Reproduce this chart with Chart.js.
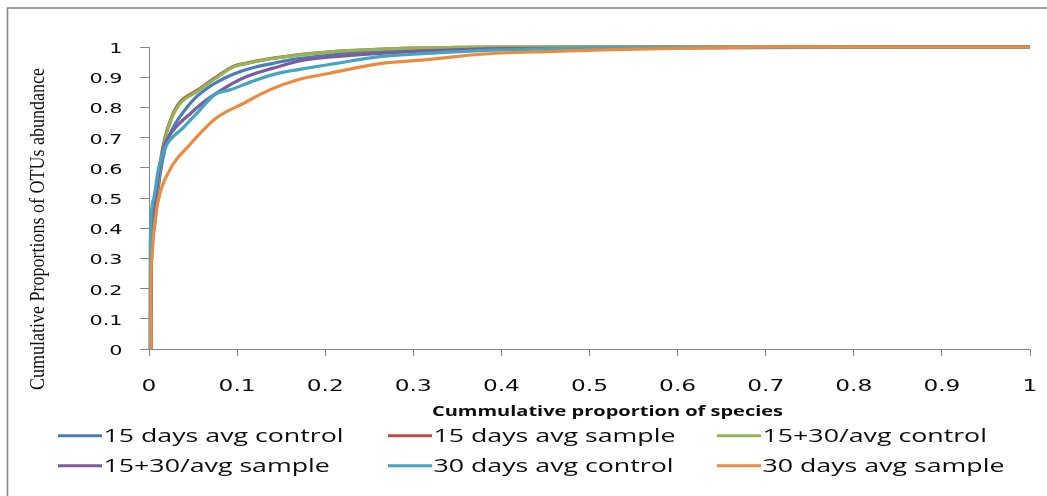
<!DOCTYPE html>
<html>
<head>
<meta charset="utf-8">
<script src="https://cdn.jsdelivr.net/npm/chart.js@4/dist/chart.umd.min.js"></script>
<style>
  html, body { margin: 0; padding: 0; background: #ffffff; }
  #wrap { position: relative; width: 1047px; height: 496px; }
</style>
</head>
<body>
<div id="wrap"><canvas id="c" width="1047" height="496"></canvas></div>
<script>
// ---- data ----
const seriesLabels = ['15 days avg control', '15 days avg sample', '15+30/avg control',
                      '15+30/avg sample', '30 days avg control', '30 days avg sample'];
const seriesColors = ['#4A7EBB', '#BE4B48', '#93B552', '#7A5CA0', '#43A5C2', '#EC8A3E'];

const ctrl15X = [0.002, 0.0025, 0.006, 0.010, 0.015, 0.020, 0.026, 0.034, 0.043, 0.052, 0.063, 0.073, 0.088, 0.103, 0.120, 0.141, 0.165, 0.190, 0.225, 0.262, 0.32, 0.40, 0.50, 1];
const ctrl15Y = [0, 0.25, 0.40, 0.52, 0.62, 0.68, 0.725, 0.765, 0.80, 0.83, 0.857, 0.877, 0.90, 0.918, 0.933, 0.946, 0.96, 0.968, 0.978, 0.985, 0.992, 0.997, 1, 1];

const samp15X = [0.002, 0.0025, 0.006, 0.0125, 0.018, 0.026, 0.035, 0.055, 0.075, 0.095, 0.115, 0.141, 0.171, 0.210, 0.243, 0.300, 0.400, 1];
const samp15Y = [0, 0.31, 0.46, 0.612, 0.698, 0.77, 0.817, 0.857, 0.898, 0.935, 0.949, 0.963, 0.975, 0.985, 0.99, 0.996, 1, 1];

const ctrl1530X = [0.002, 0.0025, 0.006, 0.0125, 0.018, 0.026, 0.035, 0.055, 0.075, 0.095, 0.115, 0.141, 0.171, 0.210, 0.243, 0.300, 0.400, 1];
const ctrl1530Y = [0, 0.30, 0.45, 0.604, 0.692, 0.765, 0.812, 0.853, 0.895, 0.933, 0.948, 0.962, 0.974, 0.985, 0.99, 0.996, 1, 1];

const samp1530X = [0.002, 0.0025, 0.006, 0.010, 0.016, 0.020, 0.031, 0.047, 0.065, 0.088, 0.111, 0.141, 0.175, 0.210, 0.262, 0.320, 0.400, 1];
const samp1530Y = [0, 0.30, 0.45, 0.56, 0.66, 0.692, 0.736, 0.780, 0.824, 0.868, 0.902, 0.93, 0.956, 0.968, 0.979, 0.988, 0.995, 1];

const ctrl30X = [0.001, 0.0015, 0.005, 0.0106, 0.018, 0.039, 0.058, 0.075, 0.092, 0.118, 0.145, 0.171, 0.213, 0.262, 0.300, 0.376, 0.450, 0.550, 1];
const ctrl30Y = [0, 0.36, 0.493, 0.595, 0.665, 0.733, 0.792, 0.843, 0.858, 0.887, 0.912, 0.926, 0.946, 0.968, 0.976, 0.988, 0.994, 0.998, 1];

const samp30X = [0.002, 0.0022, 0.003, 0.0057, 0.0106, 0.024, 0.045, 0.076, 0.107, 0.137, 0.171, 0.205, 0.262, 0.319, 0.376, 0.450, 0.489, 0.565, 0.640, 0.700, 1];
const samp30Y = [0, 0.218, 0.295, 0.394, 0.493, 0.595, 0.672, 0.764, 0.813, 0.858, 0.893, 0.913, 0.945, 0.959, 0.976, 0.985, 0.988, 0.994, 0.997, 1, 1];

const xTickValues = [0, 0.1, 0.2, 0.3, 0.4, 0.5, 0.6, 0.7, 0.8, 0.9, 1];
const xTickLabels = ['0', '0.1', '0.2', '0.3', '0.4', '0.5', '0.6', '0.7', '0.8', '0.9', '1'];
const yTickValues = [0, 0.1, 0.2, 0.3, 0.4, 0.5, 0.6, 0.7, 0.8, 0.9, 1];
const yTickLabels = ['0', '0.1', '0.2', '0.3', '0.4', '0.5', '0.6', '0.7', '0.8', '0.9', '1'];

const xTitle = 'Cummulative proportion of species';
const yTitle = 'Cumulative Proportions of OTUs abundance';

const seriesX = [ctrl15X, samp15X, ctrl1530X, samp1530X, ctrl30X, samp30X];
const seriesY = [ctrl15Y, samp15Y, ctrl1530Y, samp1530Y, ctrl30Y, samp30Y];

// ---- build chart ----
const datasets = seriesLabels.map((lab, i) => ({
  label: lab,
  data: seriesX[i].map((x, k) => ({ x: x, y: seriesY[i][k] })),
  borderColor: seriesColors[i],
  backgroundColor: seriesColors[i],
  borderWidth: 3.2,
  pointRadius: 0,
  showLine: true,
  fill: false,
  cubicInterpolationMode: 'monotone',
  order: seriesLabels.length - i,
  clip: 6
}));

function stretchText(ctx, text, x, y, sx, align) {
  ctx.save();
  ctx.translate(x, y);
  ctx.scale(sx, 1);
  ctx.textAlign = align;
  ctx.textBaseline = 'alphabetic';
  ctx.fillText(text, 0, 0);
  ctx.restore();
}

const decor = {
  id: 'decor',
  beforeDraw(chart) {
    const ctx = chart.ctx;
    ctx.save();
    ctx.fillStyle = '#ffffff';
    ctx.fillRect(0, 0, chart.width, chart.height);
    ctx.strokeStyle = '#8a8a8a';
    ctx.lineWidth = 1.6;
    ctx.strokeRect(7.5, 8, 1200, 700);
    ctx.restore();
  },
  afterDraw(chart) {
    const ctx = chart.ctx;
    const xs = chart.scales.x, ys = chart.scales.y;
    ctx.save();
    ctx.fillStyle = '#0d0d0d';

    // y tick labels
    ctx.font = '14px "DejaVu Sans"';
    let w = ctx.measureText('0.9').width;
    let sx = 33 / w;
    yTickValues.forEach((v, i) => {
      const py = ys.getPixelForValue(v);
      stretchText(ctx, yTickLabels[i], 122.5, py + 6, sx, 'right');
    });

    // x tick labels
    ctx.font = '16.5px "DejaVu Sans"';
    w = ctx.measureText('0.1').width;
    sx = 37 / w;
    xTickValues.forEach((v, i) => {
      const px = xs.getPixelForValue(v);
      stretchText(ctx, xTickLabels[i], px, 390.5, sx, 'center');
    });

    // x axis title
    ctx.font = 'bold 14px "Open Sans"';
    w = ctx.measureText(xTitle).width;
    sx = 351 / w;
    stretchText(ctx, xTitle, 607.5, 415.5, sx, 'center');

    // y axis title (rotated)
    ctx.font = '20px "Liberation Serif"';
    w = ctx.measureText(yTitle).width;
    sx = 322 / w;
    ctx.save();
    ctx.translate(43.5, 229);
    ctx.rotate(-Math.PI / 2);
    stretchText(ctx, yTitle, 0, 0, sx, 'center');
    ctx.restore();

    // legend (grid of 3 columns x 2 rows)
    const colX = [58, 388, 717];
    const rowY = [435.7, 465.7];
    ctx.font = '17.5px "Open Sans"';
    w = ctx.measureText(seriesLabels[0]).width;
    sx = 240 / w;
    chart.data.datasets.forEach((ds, i) => {
      const c = i % 3, r = Math.floor(i / 3);
      const x0 = colX[c], y0 = rowY[r];
      ctx.strokeStyle = ds.borderColor;
      ctx.lineWidth = 3;
      ctx.beginPath();
      ctx.moveTo(x0, y0);
      ctx.lineTo(x0 + 44, y0);
      ctx.stroke();
      ctx.fillStyle = '#0d0d0d';
      stretchText(ctx, ds.label, x0 + 45.5, y0 + 6.4, sx, 'left');
    });
    ctx.restore();
  }
};

new Chart(document.getElementById('c'), {
  type: 'scatter',
  data: { datasets: datasets },
  options: {
    responsive: false,
    animation: false,
    devicePixelRatio: 1,
    layout: { padding: { left: 0, top: 47, right: 17, bottom: 0 } },
    plugins: { legend: { display: false }, tooltip: { enabled: false }, title: { display: false } },
    scales: {
      x: {
        type: 'linear', min: 0, max: 1,
        afterBuildTicks: s => { s.ticks = xTickValues.map(v => ({ value: v })); },
        afterFit: s => { s.height = 147; },
        ticks: { display: false },
        grid: { display: true, drawOnChartArea: false, drawTicks: true, tickLength: 7, color: '#868686', lineWidth: 1 },
        border: { display: true, color: '#868686', width: 1 },
        title: { display: false, text: xTitle }
      },
      y: {
        type: 'linear', min: 0, max: 1,
        afterBuildTicks: s => { s.ticks = yTickValues.map(v => ({ value: v })); },
        afterFit: s => { s.width = 149; },
        ticks: { display: false },
        grid: { display: true, drawOnChartArea: false, drawTicks: true, tickLength: 9, color: '#868686', lineWidth: 1 },
        border: { display: true, color: '#868686', width: 1 },
        title: { display: false, text: yTitle }
      }
    }
  },
  plugins: [decor]
});
</script>
</body>
</html>
